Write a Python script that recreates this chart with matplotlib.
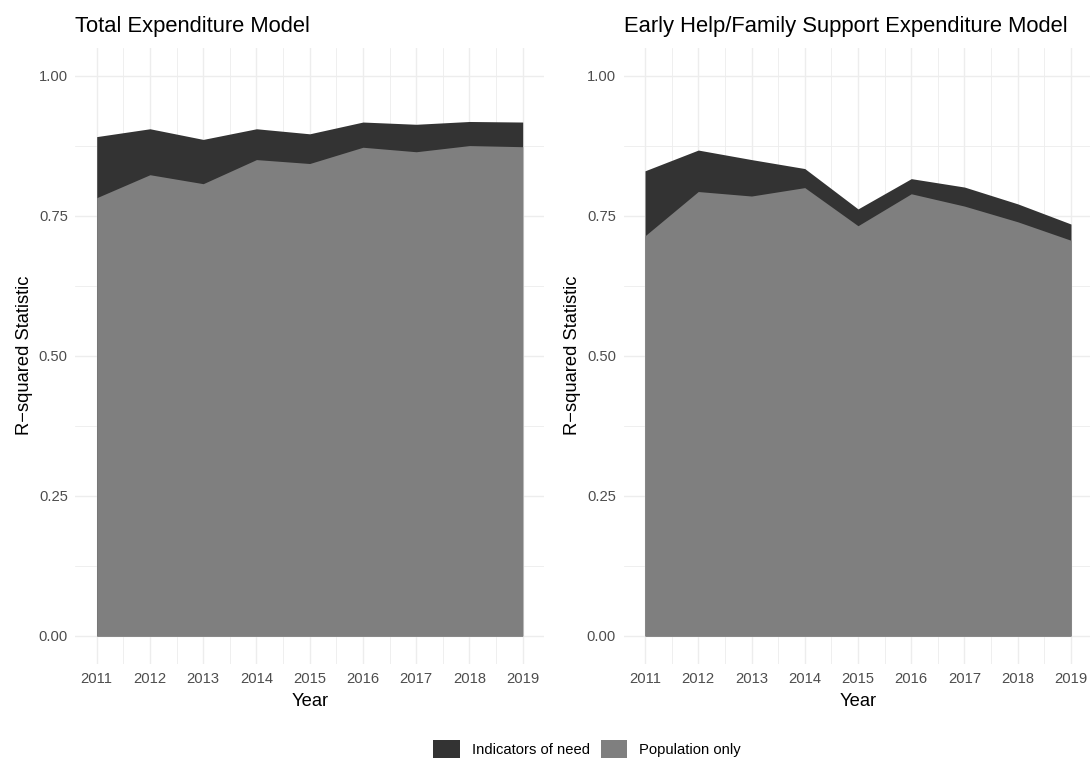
import numpy as np
import matplotlib
matplotlib.use("Agg")
import matplotlib.pyplot as plt
from matplotlib.patches import Patch

plt.rcParams['font.family'] = ['Liberation Sans', 'DejaVu Sans']

years = [2011, 2012, 2013, 2014, 2015, 2016, 2017, 2018, 2019]

# R-squared of each model per year
total_pop = [0.782, 0.823, 0.807, 0.850, 0.843, 0.872, 0.864, 0.875, 0.873]
total_need = [0.891, 0.905, 0.886, 0.905, 0.896, 0.917, 0.913, 0.918, 0.917]

early_pop = [0.714, 0.793, 0.785, 0.800, 0.732, 0.789, 0.767, 0.739, 0.706]
early_need = [0.830, 0.867, 0.850, 0.834, 0.762, 0.816, 0.801, 0.771, 0.735]

titles = ["Total Expenditure Model", "Early Help/Family Support Expenditure Model"]
series_labels = ["Indicators of need", "Population only"]

DARK = "#333333"
MID = "#7f7f7f"
GRID = "#ededed"
W, H = 1090, 760

fig = plt.figure(figsize=(W / 100, H / 100), dpi=100)


def px_axes(x0, y0, x1, y1):
    # pixel box (top-left origin) -> figure axes
    return fig.add_axes([x0 / W, 1 - y1 / H, (x1 - x0) / W, (y1 - y0) / H])


def panel(ax, pop, need, title):
    ax.fill_between(years, 0, need, color=DARK, linewidth=0, zorder=2)
    ax.fill_between(years, 0, pop, color=MID, linewidth=0, zorder=3)
    ax.set_xlim(2011 - 0.4, 2019 + 0.4)
    ax.set_ylim(-0.05, 1.05)
    ax.set_xticks(years)
    ax.set_xticks(np.arange(2011.5, 2019, 1.0), minor=True)
    ax.set_yticks([0, 0.25, 0.5, 0.75, 1.0])
    ax.set_yticks([0.125, 0.375, 0.625, 0.875], minor=True)
    ax.set_yticklabels(["0.00", "0.25", "0.50", "0.75", "1.00"])
    ax.grid(which="major", color=GRID, linewidth=1.0, zorder=0)
    ax.grid(which="minor", color=GRID, linewidth=0.6, zorder=0)
    ax.set_axisbelow(True)
    for s in ax.spines.values():
        s.set_visible(False)
    ax.tick_params(which="both", length=0, labelsize=10.6, labelcolor="#4d4d4d", pad=5.5)
    ax.set_xlabel("Year", fontsize=13.2, labelpad=5)
    ax.set_ylabel("R\u2212squared Statistic", fontsize=13.2, labelpad=4)
    ax.set_title(title, loc="left", fontsize=15.8, pad=11)


ax1 = px_axes(75.4, 47.5, 544.0, 664.0)
ax2 = px_axes(623.7, 47.5, 1092.3, 664.0)
panel(ax1, total_pop, total_need, titles[0])
panel(ax2, early_pop, early_need, titles[1])

handles = [Patch(facecolor=DARK, label=series_labels[0]),
           Patch(facecolor=MID, label=series_labels[1])]
fig.legend(handles=handles, loc="center", bbox_to_anchor=(587 / W, 1 - 749 / H),
           ncol=2, frameon=False, fontsize=10.6, handlelength=1.8, handleheight=1.5,
           handletextpad=0.8, columnspacing=0.75, borderaxespad=0, borderpad=0)

fig.savefig("out.png", dpi=100)
